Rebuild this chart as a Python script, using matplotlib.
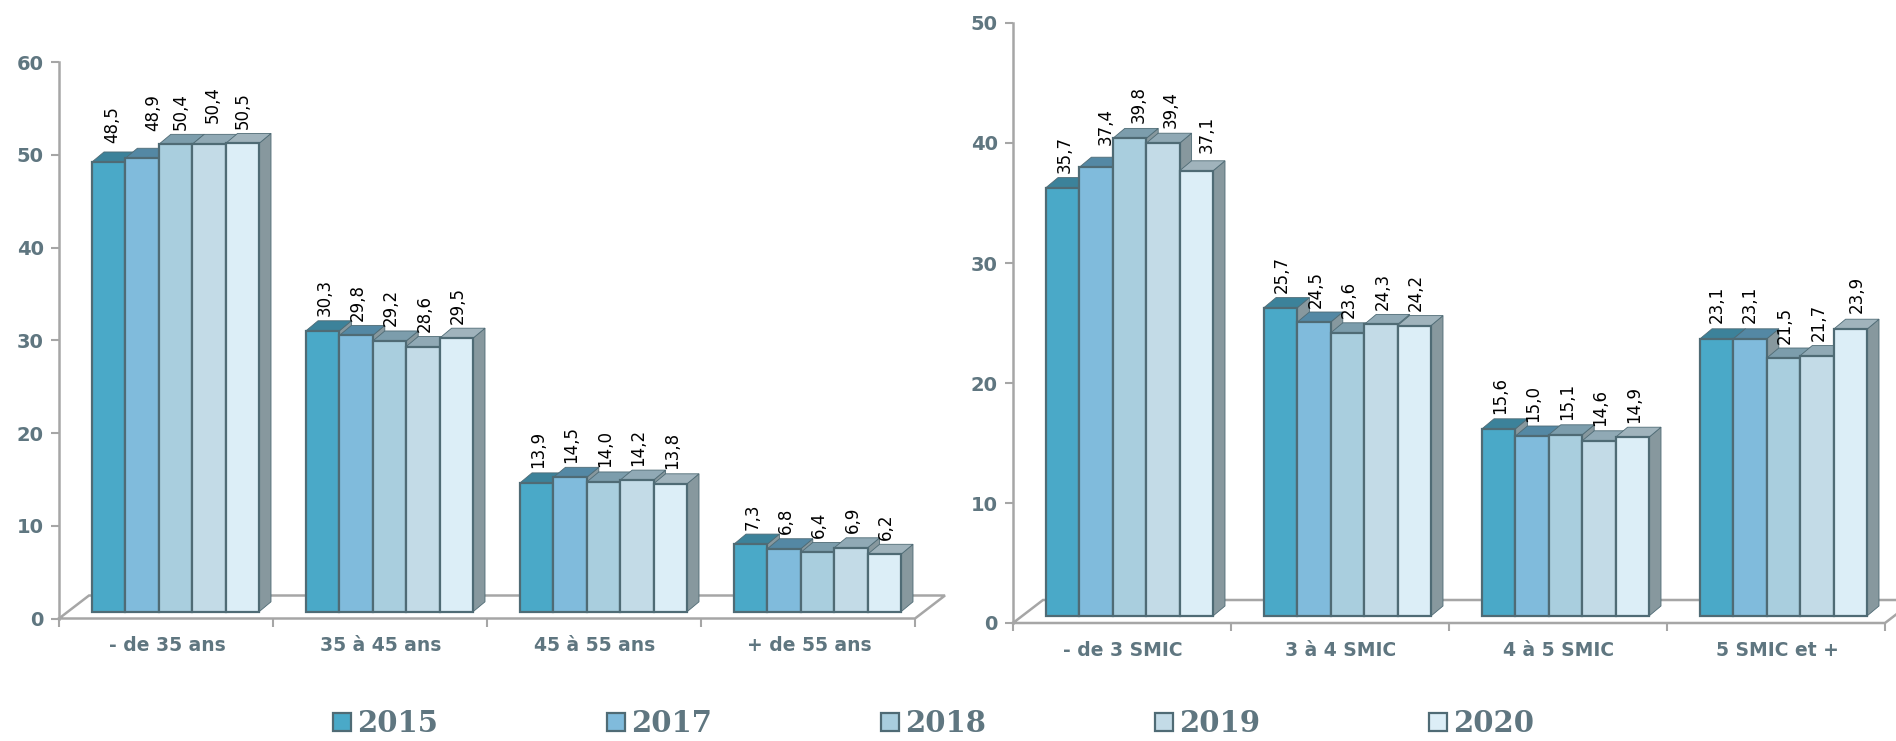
import matplotlib
matplotlib.use("Agg")
import matplotlib.pyplot as plt
from matplotlib.patches import Polygon

# valeurs
annees = ["2015", "2017", "2018", "2019", "2020"]
ages = ["- de 35 ans", "35 à 45 ans", "45 à 55 ans", "+ de 55 ans"]
salaires = ["- de 3 SMIC", "3 à 4 SMIC", "4 à 5 SMIC", "5 SMIC et +"]

age_2015 = [48.5, 30.3, 13.9, 7.3]
age_2017 = [48.9, 29.8, 14.5, 6.8]
age_2018 = [50.4, 29.2, 14.0, 6.4]
age_2019 = [50.4, 28.6, 14.2, 6.9]
age_2020 = [50.5, 29.5, 13.8, 6.2]

smic_2015 = [35.7, 25.7, 15.6, 23.1]
smic_2017 = [37.4, 24.5, 15.0, 23.1]
smic_2018 = [39.8, 23.6, 15.1, 21.5]
smic_2019 = [39.4, 24.3, 14.6, 21.7]
smic_2020 = [37.1, 24.2, 14.9, 23.9]

# couleurs
face = ["#4aa9c8", "#80bbdc", "#a9cede", "#c3dbe7", "#dceef7"]
dessus = ["#3c829a", "#5488a4", "#7c9dac", "#90a9b5", "#a0b3bc"]
cote = "#87989e"
bord = "#4f6b75"
gris_axe = "#a6a6a6"
gris_txt = "#5f7680"

# etiquettes deplacees a la main sur l'original : (groupe, annee) -> (dx, ecart) en pixels
decal_age = {(0, 0): (4, 19), (0, 1): (11, 27), (0, 2): (5.5, 14), (0, 3): (4, 21.5), (0, 4): (0.5, 14)}
decal_smic = {(0, 0): (1.6, 14.7), (0, 1): (10, 22.6), (0, 2): (9, 15.6), (0, 3): (7.7, 15.4), (0, 4): (10.4, 18),
              (3, 0): (0, 15.5), (3, 1): (0, 15.5), (3, 4): (6, 16.6)}

W, H = 1896, 741


def panel(x0, x1, y0, ytop, ymax, step, series, cats, base_px, left_px, decal):
    ax = fig.add_axes([x0 / W, 1 - y0 / H, (x1 - x0) / W, (y0 - ytop) / H])
    ax.set_xlim(0, 4)
    ax.set_ylim(0, ymax)
    ax.patch.set_alpha(0)
    px_x = (x1 - x0) / 4
    px_y = (y0 - ytop) / ymax
    w = 33.4 / px_x
    dx = 12 / px_x
    dy = 10 / px_y
    base = base_px / px_y
    left = left_px / px_x
    bars = []

    # sol et murs
    bx = 30 / px_x
    by = 23 / px_y
    ax.plot([0, 4, 4 + bx, bx, 0], [0, 0, by, by, 0], color=gris_axe, lw=1.8,
            clip_on=False, zorder=1, solid_joinstyle="miter")

    z = 2
    for g in range(4):
        for k, vals in enumerate(series):
            v = vals[g]
            x = g + left + k * w
            ax.add_patch(Polygon([(x + w, base), (x + w + dx, base + dy), (x + w + dx, base + v + dy), (x + w, base + v)],
                                 fc=cote, ec=bord, lw=0.6, zorder=z))
            ax.add_patch(Polygon([(x, base + v), (x + dx, base + v + dy), (x + w + dx, base + v + dy), (x + w, base + v)],
                                 fc=dessus[k], ec=bord, lw=0.6, zorder=z))
            b = ax.bar(x, v, w, bottom=base, align="edge", color=face[k], edgecolor=bord, lw=1.6, zorder=z + 0.5)
            if g == 0:
                bars.append(b[0])
            ddx, gap = decal.get((g, k), (1.5, 14.5))
            ax.text(x + w / 2 + ddx / px_x, base + v + gap / px_y, f"{v:.1f}".replace(".", ","), rotation=90,
                    ha="center", va="bottom", fontsize=12, color="black", zorder=50)
            z += 1

    for s in ["top", "right", "bottom"]:
        ax.spines[s].set_visible(False)
    ax.spines["left"].set_color(gris_axe)
    ax.spines["left"].set_linewidth(1.8)
    ax.set_yticks(range(0, ymax + 1, step))
    ax.set_xticks(range(5))
    ax.set_xticklabels([])
    ax.tick_params(axis="both", color=gris_axe, width=1.5, length=6)
    ax.tick_params(axis="y", labelsize=14, labelcolor=gris_txt, pad=5)
    for t in ax.get_yticklabels():
        t.set_fontweight("bold")
    for i, c in enumerate(cats):
        ax.text(i + 0.5 + 1 / px_x, -27 / px_y, c, ha="center", va="center", fontsize=13.5,
                fontweight="bold", color=gris_txt)
    return bars


fig = plt.figure(figsize=(W / 100, H / 100), dpi=100)

poignees = panel(59, 915, 618.5, 62, 60, 10,
                 [age_2015, age_2017, age_2018, age_2019, age_2020], ages, 6.7, 33, decal_age)
panel(1013, 1885, 623, 23, 50, 10,
      [smic_2015, smic_2017, smic_2018, smic_2019, smic_2020], salaires, 7, 33, decal_smic)

fig.legend(poignees, annees, ncol=5, loc="lower center", bbox_to_anchor=(933.5 / W, 2.5 / H),
           frameon=False, borderpad=0, borderaxespad=0, handlelength=0.62, handleheight=0.55,
           handletextpad=0.2, columnspacing=5.8,
           prop={"family": "DejaVu Serif", "weight": "bold", "size": 21}, labelcolor=gris_txt)

fig.savefig("out.png", dpi=100)
